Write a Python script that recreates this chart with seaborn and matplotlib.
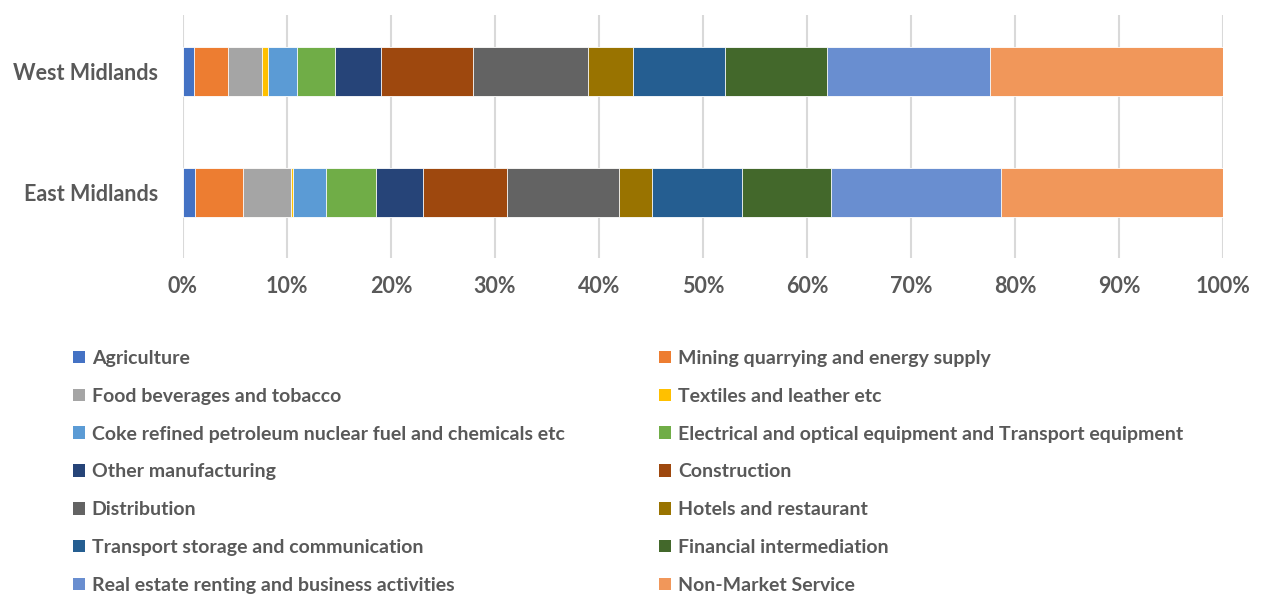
import matplotlib
matplotlib.use("Agg")
import matplotlib.pyplot as plt
from matplotlib.patches import Patch
import seaborn as sns
import pandas as pd
import numpy as np

regions = ["West Midlands", "East Midlands"]
sectors = [
    "Agriculture",
    "Mining quarrying and energy supply",
    "Food beverages and tobacco",
    "Textiles and leather etc",
    "Coke refined petroleum nuclear fuel and chemicals etc",
    "Electrical and optical equipment and Transport equipment",
    "Other manufacturing",
    "Construction",
    "Distribution",
    "Hotels and restaurant",
    "Transport storage and communication",
    "Financial intermediation",
    "Real estate renting and business activities",
    "Non-Market Service",
]
west = [1.04, 3.26, 3.33, 0.58, 2.75, 3.64, 4.42, 8.88, 11.08, 4.28, 8.87, 9.75, 15.72, 22.40]
east = [1.13, 4.61, 4.61, 0.23, 3.16, 4.86, 4.45, 8.12, 10.75, 3.17, 8.64, 8.54, 16.38, 21.35]
colors = ["#4472C4", "#ED7D31", "#A5A5A5", "#FFC000", "#5B9BD5", "#70AD47", "#264478",
          "#9E480E", "#636363", "#997300", "#255E91", "#43682B", "#698ED0", "#F1975A"]
tick_labels = ["0%", "10%", "20%", "30%", "40%", "50%", "60%", "70%", "80%", "90%", "100%"]

sns.set_theme(style="white")
plt.rcParams["font.family"] = ["Lato", "DejaVu Sans"]
text_color = "#595959"

df = pd.DataFrame({"sector": np.repeat(sectors, 2),
                   "region": regions * len(sectors),
                   "value": [v for pair in zip(west, east) for v in pair]})
tot = df.groupby("region", sort=False)["value"].sum()
df["pct"] = df["value"] / df["region"].map(tot) * 100
df["cum"] = df.groupby("region", sort=False)["pct"].cumsum()

fig = plt.figure(figsize=(12.65, 5.96), dpi=100)
ax = fig.add_axes([183 / 1265, 1 - 258 / 596, (1223 - 183) / 1265, (258 - 15) / 596])

for s, c in reversed(list(zip(sectors, colors))):
    sub = df[df["sector"] == s]
    sns.barplot(data=sub, x="cum", y="region", order=regions, orient="h",
                color=c, width=0.405, edgecolor="white", linewidth=0.6,
                ax=ax, zorder=3, saturation=1)

ax.set_xlim(0, 100)
ax.set_ylim(1.54, -0.47)
ax.set_xticks(np.arange(0, 101, 10))
ax.set_xticklabels(tick_labels, fontsize=15.5, fontweight="bold", color=text_color)
ax.set_yticks([0, 1])
ax.set_yticklabels(regions, fontsize=15.5, fontweight="bold", color=text_color)
ax.tick_params(axis="x", length=0, pad=13)
ax.tick_params(axis="y", length=0, pad=18)
ax.set_xlabel("")
ax.set_ylabel("")
ax.grid(axis="x", color="#D9D9D9", linewidth=1.5, zorder=0)
ax.set_axisbelow(True)
for sp in ax.spines.values():
    sp.set_visible(False)

handles = [Patch(facecolor=c, edgecolor="none", label=s) for s, c in zip(sectors, colors)]
common = dict(loc="upper left", frameon=False, fontsize=14, handlelength=0.62,
              handleheight=0.62, handletextpad=0.35, labelspacing=1.07, borderpad=0,
              borderaxespad=0)
legL = fig.legend(handles=handles[0::2], bbox_to_anchor=(73 / 1265, 1 - 350 / 596), **common)
legR = fig.legend(handles=handles[1::2], bbox_to_anchor=(659 / 1265, 1 - 350 / 596), **common)
for leg in (legL, legR):
    for t in leg.get_texts():
        t.set_color(text_color)
        t.set_fontweight("bold")

fig.savefig("out.png", dpi=100)
